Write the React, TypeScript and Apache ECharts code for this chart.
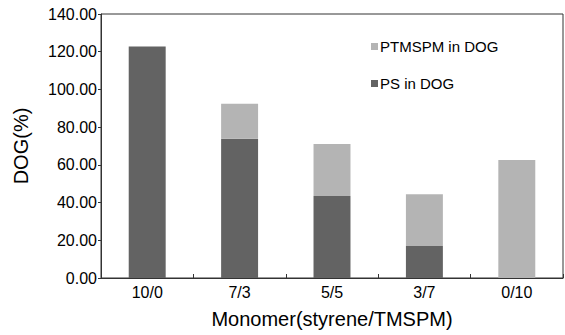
import React, { useEffect, useRef } from "react";
import * as echarts from "echarts";

const categories = ["10/0", "7/3", "5/5", "3/7", "0/10"];
const psValues = [122.8, 73.9, 43.5, 17.0, 0];
const ptmspmValues = [0, 18.5, 27.6, 27.4, 62.6];
const seriesNames = ["PS in DOG", "PTMSPM in DOG"];
const yTicks = { min: 0, max: 140, interval: 20 };

const FONT = "Liberation Sans";

export default function App() {
  const ref = useRef<HTMLDivElement>(null);
  useEffect(() => {
    if (!ref.current) return;
    const chart = echarts.init(ref.current, undefined, { renderer: "svg" });
    chart.setOption({
      animation: false,
      backgroundColor: "#ffffff",
      grid: {
        left: 101,
        right: 2,
        top: 14,
        bottom: 57,
        show: true,
        borderColor: "#333333",
        borderWidth: 1,
        backgroundColor: "transparent",
      },
      legend: {
        orient: "vertical",
        left: 366,
        top: 34,
        data: [seriesNames[1], seriesNames[0]],
        icon: "rect",
        itemWidth: 7,
        itemHeight: 7,
        itemGap: 22,
        textStyle: {
          fontFamily: FONT,
          fontSize: 15,
          lineHeight: 15,
          color: "#000",
          padding: [0, 0, 0, -3],
        },
      },
      xAxis: {
        type: "category",
        data: categories,
        boundaryGap: true,
        name: "Monomer(styrene/TMSPM)",
        nameLocation: "middle",
        nameGap: 31,
        nameTextStyle: { fontFamily: FONT, fontSize: 20, color: "#000" },
        axisLine: { show: true, lineStyle: { color: "#333333", width: 1 } },
        axisTick: { show: true, inside: true, length: 4, lineStyle: { color: "#333333" } },
        axisLabel: { fontFamily: FONT, fontSize: 16, color: "#000", margin: 6 },
        splitLine: { show: false },
      },
      yAxis: {
        type: "value",
        min: yTicks.min,
        max: yTicks.max,
        interval: yTicks.interval,
        name: "DOG(%)",
        nameLocation: "middle",
        nameGap: 70,
        nameTextStyle: { fontFamily: FONT, fontSize: 20, color: "#000" },
        axisLine: { show: true, lineStyle: { color: "#333333", width: 1 } },
        axisTick: { show: true, inside: false, length: 3, lineStyle: { color: "#333333" } },
        axisLabel: {
          fontFamily: FONT,
          fontSize: 16,
          color: "#000",
          margin: 4,
          formatter: (v: number) => v.toFixed(2),
        },
        splitLine: { show: false },
      },
      series: [
        {
          name: seriesNames[0],
          type: "bar",
          stack: "dog",
          data: psValues,
          barWidth: "40%",
          itemStyle: { color: "#636363" },
        },
        {
          name: seriesNames[1],
          type: "bar",
          stack: "dog",
          data: ptmspmValues,
          barWidth: "40%",
          itemStyle: { color: "#b4b4b4" },
        },
      ],
    });
    return () => chart.dispose();
  }, []);
  return (
    <div
      ref={ref}
      style={{ position: "absolute", left: 0, top: 0, width: 565, height: 335 }}
    />
  );
}
